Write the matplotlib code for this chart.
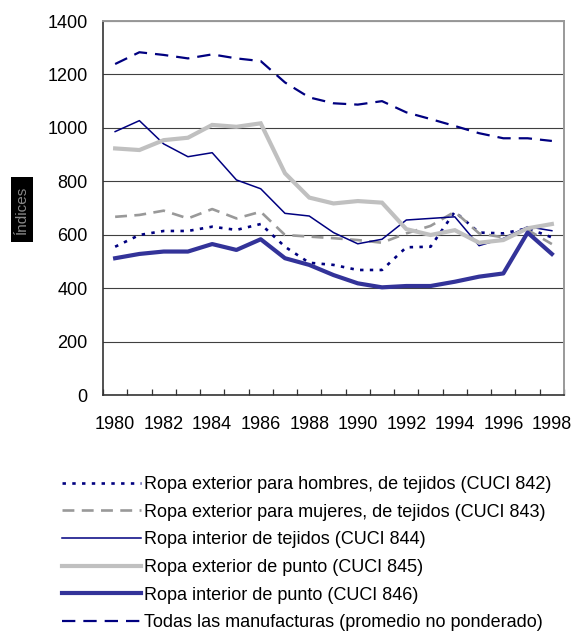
import matplotlib
matplotlib.use("Agg")
import matplotlib.pyplot as plt
from matplotlib.patches import Rectangle
from matplotlib.ticker import FixedLocator, NullFormatter

plt.rcParams['font.family'] = ['Liberation Sans', 'DejaVu Sans']

years = list(range(1980, 1999))
year_labels = [str(y) if y % 2 == 0 else "" for y in years]

hombres_842 = [555, 599, 614, 614, 630, 618, 640, 555, 495, 487, 468, 468, 553, 555, 686, 608, 605, 624, 590]
mujeres_843 = [667, 674, 690, 661, 696, 661, 686, 599, 593, 587, 580, 570, 605, 633, 686, 605, 590, 618, 565]
interior_tej_844 = [986, 1027, 940, 892, 907, 805, 772, 680, 670, 608, 566, 583, 655, 661, 667, 559, 586, 630, 615]
exterior_pto_845 = [923, 917, 954, 963, 1011, 1004, 1017, 830, 739, 717, 726, 720, 621, 599, 617, 570, 580, 624, 640]
interior_pto_846 = [512, 528, 537, 537, 565, 543, 583, 512, 487, 449, 418, 403, 408, 408, 424, 443, 455, 608, 528]
todas_manuf = [1239, 1283, 1273, 1260, 1275, 1260, 1250, 1170, 1114, 1092, 1087, 1100, 1058, 1033, 1007, 980, 961, 961, 951]

labels = [
    "Ropa exterior para hombres, de tejidos (CUCI 842)",
    "Ropa exterior para mujeres, de tejidos (CUCI 843)",
    "Ropa interior de tejidos (CUCI 844)",
    "Ropa exterior de punto (CUCI 845)",
    "Ropa interior de punto (CUCI 846)",
    "Todas las manufacturas (promedio no ponderado)",
]
yticks = [0, 200, 400, 600, 800, 1000, 1200, 1400]

W, H = 574, 632
fig = plt.figure(figsize=(W / 100, H / 100), dpi=100)
ax = fig.add_axes([103 / W, 1 - 395 / H, (564 - 103) / W, (395 - 21) / H])

x = list(range(len(years)))
navy = "#000080"

lines = []
l, = ax.plot(x, hombres_842, color=navy, lw=1.9, linestyle=(0, (1.3, 2.4)), dash_capstyle='butt')
lines.append(l)
l, = ax.plot(x, mujeres_843, color="#999999", lw=1.9, linestyle=(0, (4.5, 2.8)), dash_capstyle='butt')
lines.append(l)
l, = ax.plot(x, interior_tej_844, color=navy, lw=1.1)
lines.append(l)
l, = ax.plot(x, exterior_pto_845, color="#C0C0C0", lw=3.0, solid_joinstyle='miter')
lines.append(l)
l, = ax.plot(x, interior_pto_846, color="#333399", lw=3.0)
lines.append(l)
l, = ax.plot(x, todas_manuf, color=navy, lw=1.6, linestyle=(0, (6.0, 3.6)), dash_capstyle='butt')
lines.append(l)

ax.set_xlim(-0.5, len(years) - 0.5)
ax.set_ylim(0, 1400)
ax.set_yticks(yticks)
ax.set_yticklabels([str(v) for v in yticks])
ax.yaxis.grid(True, color="#404040", lw=0.8)
ax.set_axisbelow(True)
ax.tick_params(axis='y', length=0, pad=11, labelsize=13, colors='black')

ax.xaxis.set_major_locator(FixedLocator(x))
ax.set_xticklabels(year_labels)
ax.xaxis.set_minor_locator(FixedLocator([i - 0.5 for i in range(len(years) + 1)]))
ax.xaxis.set_minor_formatter(NullFormatter())
ax.tick_params(axis='x', which='major', length=0, pad=15, labelsize=13)
ax.tick_params(axis='x', which='minor', direction='in', length=4, width=0.9, color='#333333')

for s in ['top', 'right']:
    ax.spines[s].set_color('#999999')
    ax.spines[s].set_linewidth(1.4)
for s in ['left', 'bottom']:
    ax.spines[s].set_color('#333333')
    ax.spines[s].set_linewidth(1.2)

# y label: black box with grey rotated text
fig.patches.append(Rectangle((11 / W, 1 - 242 / H), 22 / W, 65 / H, transform=fig.transFigure,
                             facecolor='black', edgecolor='none', zorder=1))
fig.text(22 / W, 1 - 210 / H, "Índices", rotation=90, ha='center', va='center',
         color='#888888', fontsize=11, zorder=2)

leg = fig.legend(lines, labels, loc='upper left', bbox_to_anchor=(62 / W, 1 - 476 / H),
                 frameon=False, fontsize=13, handlelength=4.4, handletextpad=0.15,
                 labelspacing=0.59, borderaxespad=0, borderpad=0)

fig.savefig("out.png", dpi=100)
